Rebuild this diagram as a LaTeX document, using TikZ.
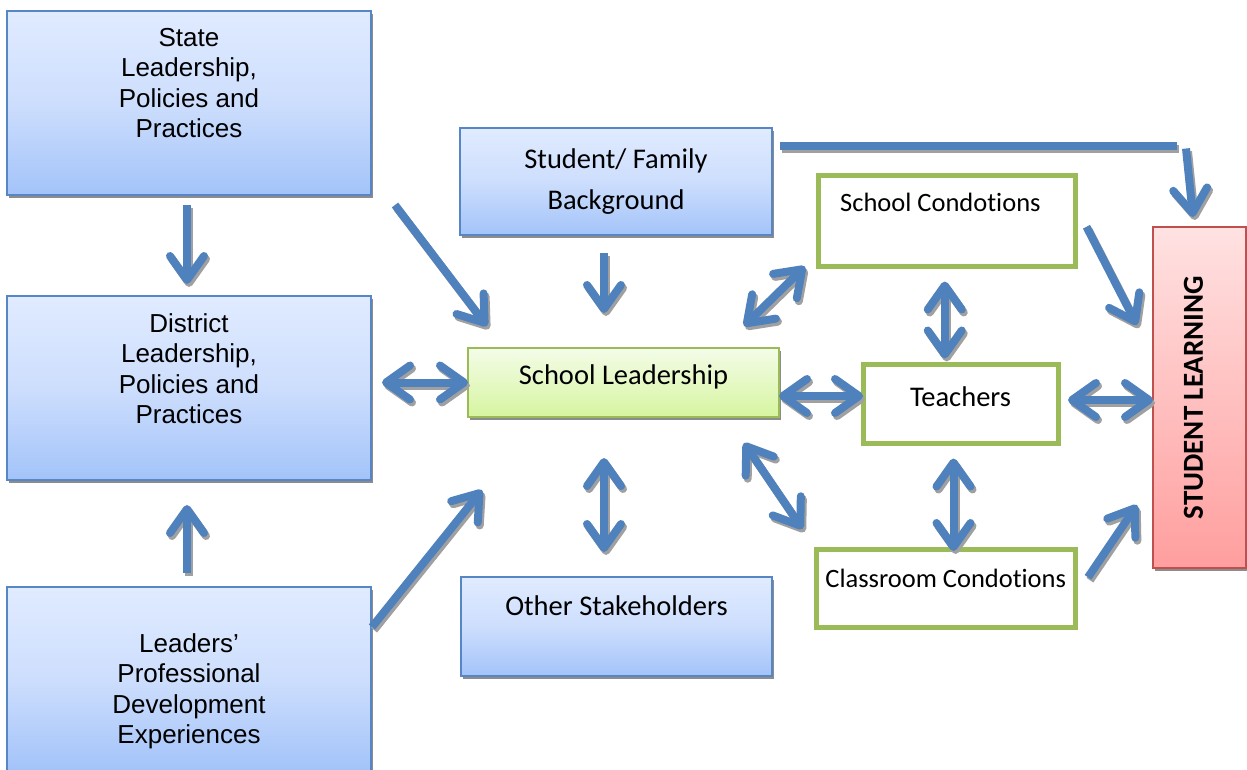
\documentclass[tikz,border=0pt]{standalone}
\usepackage{fontspec}
\usetikzlibrary{positioning,calc,arrows.meta,shadows}
\newfontfamily\arialfont{Liberation Sans}
\newfontfamily\calibrifont[Ligatures=CommonOff]{Carlito}
\definecolor{arrowblue}{RGB}{79,129,189}
\definecolor{shadowgray}{RGB}{160,160,160}
\definecolor{boxblue}{RGB}{86,134,196}
\definecolor{bluetop}{RGB}{224,235,255}
\definecolor{bluemid}{RGB}{205,222,253}
\definecolor{bluebottom}{RGB}{163,195,249}
\definecolor{leafgreen}{RGB}{155,187,89}
\definecolor{greentop}{RGB}{244,252,232}
\definecolor{greenbottom}{RGB}{214,245,160}
\definecolor{boxred}{RGB}{192,80,77}
\definecolor{redtop}{RGB}{255,226,226}
\definecolor{redbottom}{RGB}{255,158,158}

\begin{document}
\begin{tikzpicture}[x=1pt, y=-1pt,
    bluebox/.style = {draw=boxblue, line width=1.5pt, top color=bluetop, bottom color=bluebottom, middle color=bluemid,
      inner sep=0pt, outer sep=0pt, drop shadow={shadow xshift=1.5pt, shadow yshift=-3pt, fill=black!45, opacity=1}},
    slbox/.style = {draw=leafgreen, line width=1.5pt, top color=greentop, bottom color=greenbottom,
      inner sep=0pt, outer sep=0pt, drop shadow={shadow xshift=1.5pt, shadow yshift=-3pt, fill=black!45, opacity=1}},
    condbox/.style = {draw=leafgreen, line width=5pt, fill=white, inner sep=0pt, outer sep=0pt},
    redbox/.style = {draw=boxred, line width=1.5pt, top color=redtop, bottom color=redbottom,
      inner sep=0pt, outer sep=0pt, drop shadow={shadow xshift=1.5pt, shadow yshift=-3pt, fill=black!45, opacity=1}},
    arialtext/.style = {font=\arialfont\fontsize{26}{30.5}\selectfont, align=center, inner sep=0pt},
    calitext/.style = {font=\calibrifont\fontsize{28.5}{41}\selectfont, align=center, inner sep=0pt},
    condtext/.style = {font=\calibrifont\fontsize{26.5}{32}\selectfont, inner sep=0pt},
    barb/.tip = {Straight Barb[length=24pt, width=34pt, round]},
    bar/.style = {draw=arrowblue, line width=8pt,
      preaction={draw=shadowgray, line width=8pt, transform canvas={shift={(2pt,-3pt)}}}},
    flow/.style = {draw=arrowblue, line width=8pt, -barb,
      preaction={draw=shadowgray, line width=8pt, -barb, transform canvas={shift={(2pt,-3pt)}}}},
    twoway/.style = {draw=arrowblue, line width=8pt, barb-barb,
      preaction={draw=shadowgray, line width=8pt, barb-barb, transform canvas={shift={(2pt,-3pt)}}}}]
  \useasboundingbox (0,0) rectangle (1247,769);

  % left column
  \node[bluebox, minimum width=364pt, minimum height=184pt] (state) at (189,103) {};
  \node[bluebox, minimum width=364pt, minimum height=184pt] (district) at (189,388) {};
  \node[bluebox, minimum width=364pt, minimum height=184pt] (leaders) at (189,679) {};
  \node[arialtext, below=17pt of state.north] (statetext) {State\\Leadership,\\Policies and\\Practices};
  \node[arialtext, below=17pt of district.north] (districttext) {District\\Leadership,\\Policies and\\Practices};
  \node[arialtext, below=46pt of leaders.north] (leaderstext) {Leaders’\\Professional\\Development\\Experiences};

  % middle column
  \node[bluebox, minimum width=312pt, minimum height=107pt] (famback) at (616,181.5) {};
  \node[slbox, minimum width=311pt, minimum height=69pt] (schlead) at (623.5,382.5) {};
  \node[bluebox, minimum width=311pt, minimum height=99pt] (others) at (616.5,626.5) {};
  \node[calitext] (fambacktext) at (famback.center) {Student/ Family\\Background};
  \node[calitext, below=17pt of schlead.north] (schleadtext) {School Leadership};
  \node[calitext, below=18pt of others.north] (otherstext) {Other Stakeholders};

  % right column
  \node[condbox, minimum width=257.5pt, minimum height=91.5pt] (schcond) at (946.75,220.75) {};
  \node[condbox, minimum width=195pt, minimum height=79pt] (teachers) at (960.5,404) {};
  \node[condbox, minimum width=258.5pt, minimum height=78.5pt] (classroom) at (945.75,588.25) {};
  \node[condtext, below right=18pt and 22pt of schcond.north west] (schcondtext) {School Condotions};
  \node[condtext, font=\calibrifont\fontsize{28.5}{32}\selectfont, below=22pt of teachers.north] (teacherstext) {Teachers};
  \node[condtext, below=20pt of classroom.north] (classroomtext) {Classroom Condotions};

  \node[redbox, minimum width=93pt, minimum height=341pt] (stlearn) at (1199.5,397.5) {};
  \node[font=\calibrifont\bfseries\fontsize{29}{32}\selectfont, rotate=90, inner sep=0pt] (stlearntext) at ([xshift=-6pt]stlearn.center) {STUDENT LEARNING};

  \coordinate (corner) at (1177,145.5);

  % arrows
  \draw[flow, shorten <=10pt, shorten >=12pt] ([xshift=-2pt]state.south) -- ([xshift=-2pt]district.north);
  \draw[flow, shorten <=14pt, shorten >=25pt] ([xshift=-2pt]leaders.north) -- ([xshift=-2pt]district.south);
  \draw[flow] ($(state.south east)+(24,10)$) -- ($(schlead.north west)+(19,-22)$);
  \draw[flow] ($(leaders.north east)+(1,40)$) -- ($(schlead.south west)+(14,73)$);
  \draw[flow, shorten <=18pt, shorten >=35pt] ([xshift=-12pt]famback.south) -- ([xshift=-12pt]famback.south |- schlead.north);
  \draw[twoway] ([xshift=11pt]district.east |- schlead.west) -- (schlead.west);
  \draw[twoway, shorten <=25pt, shorten >=41pt] ([xshift=-19.5pt]schlead.south |- others.north) -- ([xshift=-19.5pt]schlead.south);
  \draw[twoway] ($(schlead.north east)+(-35,-22)$) -- ($(schcond.south west)+(-13,0)$);
  \draw[twoway] ([yshift=8pt]teachers.west -| schlead.east) -- ([yshift=8pt]teachers.west);
  \draw[twoway] ($(schlead.south east)+(-35,26)$) -- ($(classroom.north west)+(-14,-20)$);
  \draw[twoway, shorten <=15pt, shorten >=6pt] ([xshift=-2pt]schcond.south) -- ([xshift=-2pt]schcond.south |- teachers.north);
  \draw[twoway, shorten <=15pt, shorten >=-2pt] ([xshift=-7pt]teachers.south) -- ([xshift=-7pt]teachers.south |- classroom.north);
  \draw[twoway, shorten <=10pt] ([yshift=4pt]teachers.east) -- ([yshift=4pt]teachers.east -| stlearn.west);
  \draw[flow] ($(schcond.east)+(11,6)$) -- ($(stlearn.north west)+(-16,98)$);
  \draw[flow] ($(classroom.east)+(13,-11)$) -- ($(stlearn.south west)+(-16,-63)$);
  \draw[bar] ($(famback.north east)+(8,17.5)$) -- (corner);
  \draw[flow] ($(corner)+(9,3)$) -- ($(stlearn.north)+(-6.5,-10)$);
\end{tikzpicture}
\end{document}
